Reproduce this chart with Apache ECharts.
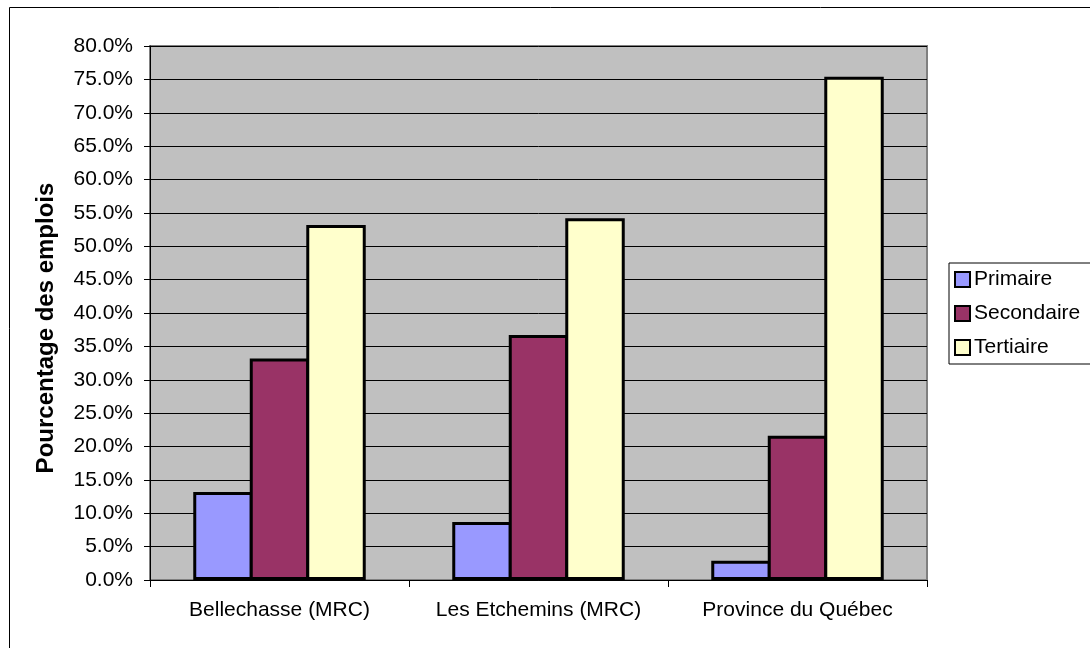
<!DOCTYPE html>
<html>
<head>
<meta charset="utf-8">
<script src="https://cdn.jsdelivr.net/npm/echarts@6/dist/echarts.min.js"></script>
<style>
html,body{margin:0;padding:0;background:#fff;}
#chart{width:1090px;height:648px;}
</style>
</head>
<body>
<div id="chart"></div>
<script>
var categories = ['Bellechasse (MRC)', 'Les Etchemins (MRC)', 'Province du Québec'];
var seriesNames = ['Primaire', 'Secondaire', 'Tertiaire'];
var primaire = [13.2, 8.7, 2.9];
var secondaire = [33.2, 36.7, 21.6];
var tertiaire = [53.2, 54.2, 75.4];
var axisTitle = 'Pourcentage des emplois';

var FONT = "'Liberation Sans', Arial, sans-serif";
var chart = echarts.init(document.getElementById('chart'), null, {renderer: 'canvas'});

function barSeries(name, data, color) {
  return {
    name: name,
    type: 'bar',
    data: data,
    barGap: '-5%',
    barCategoryGap: '33.4%',
    itemStyle: {color: color, borderColor: '#000', borderWidth: 3},
    emphasis: {disabled: true}
  };
}

chart.setOption({
  animation: false,
  backgroundColor: '#fff',
  textStyle: {fontFamily: FONT, color: '#000'},
  grid: {
    left: 150, right: 163, top: 46, bottom: 68,
    show: true, backgroundColor: '#C0C0C0', borderColor: '#808080', borderWidth: 2,
    containLabel: false
  },
  legend: {
    orient: 'vertical',
    left: 949, top: 263,
    padding: [6, 12, 6, 5],
    itemGap: 13,
    itemWidth: 15, itemHeight: 15,
    icon: 'rect',
    borderColor: '#000', borderWidth: 1,
    backgroundColor: '#fff',
    textStyle: {fontFamily: FONT, fontSize: 21, color: '#000', padding: [0, 0, 0, -1]},
    data: seriesNames
  },
  xAxis: {
    type: 'category',
    data: categories,
    axisLine: {show: true, lineStyle: {color: '#000', width: 1}},
    axisTick: {show: true, alignWithLabel: false, length: 7, lineStyle: {color: '#000'}},
    axisLabel: {fontFamily: FONT, fontSize: 21, color: '#000', margin: 20, interval: 0},
    splitLine: {show: false}
  },
  yAxis: {
    type: 'value',
    min: 0, max: 80, interval: 5,
    axisLine: {show: true, lineStyle: {color: '#000', width: 1}},
    axisTick: {show: true, length: 6, lineStyle: {color: '#000'}},
    axisLabel: {
      fontFamily: FONT, fontSize: 21, color: '#000', margin: 17,
      formatter: function (v) { return v.toFixed(1) + '%'; }
    },
    splitLine: {show: true, lineStyle: {color: '#000', width: 1}}
  },
  graphic: [
    {
      type: 'rect', silent: true, z: -10,
      shape: {x: 9.5, y: 7.5, width: 1200, height: 800},
      style: {fill: 'none', stroke: '#000', lineWidth: 1}
    },
    {
      type: 'text', silent: true,
      x: 46, y: 328, rotation: Math.PI / 2,
      style: {
        text: axisTitle, fontFamily: FONT, fontSize: 24, fontWeight: 'bold',
        fill: '#000', align: 'center', verticalAlign: 'middle'
      }
    }
  ],
  series: [
    barSeries(seriesNames[0], primaire, '#9999FF'),
    barSeries(seriesNames[1], secondaire, '#993366'),
    barSeries(seriesNames[2], tertiaire, '#FFFFCC')
  ]
});
</script>
</body>
</html>
